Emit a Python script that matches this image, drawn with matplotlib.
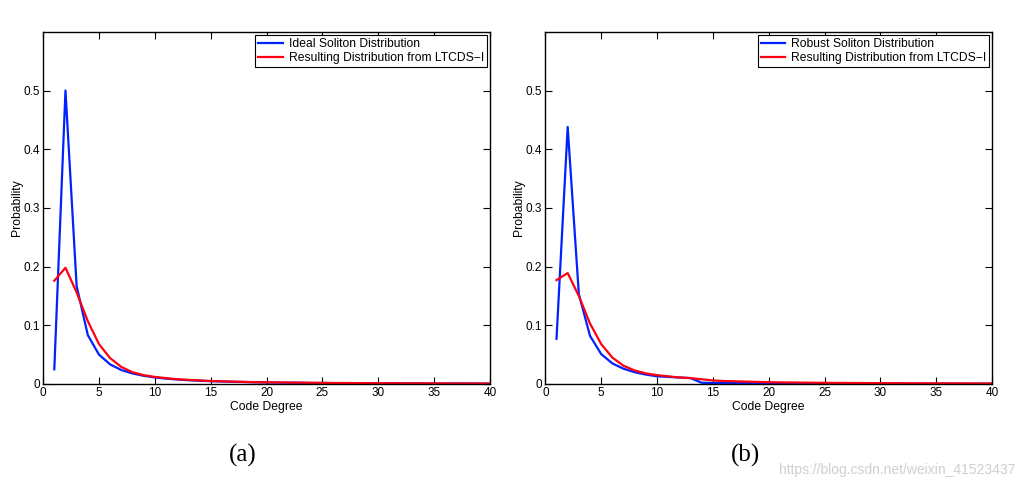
import matplotlib.pyplot as plt

degree = list(range(1, 41))

# (a) ideal soliton vs. LTCDS-I
ideal_soliton = [0.025, 0.5, 0.1667, 0.0833, 0.05, 0.0333, 0.0238, 0.0179, 0.0139, 0.0111,
                 0.0091, 0.0076, 0.0064, 0.0055, 0.0048, 0.0042, 0.0037, 0.0033, 0.0029, 0.0026,
                 0.0024, 0.0022, 0.0020, 0.0018, 0.0017, 0.0015, 0.0014, 0.0013, 0.0012, 0.0011,
                 0.0011, 0.0010, 0.0009, 0.0009, 0.0008, 0.0008, 0.0008, 0.0007, 0.0007, 0.0006]
ltcds_a = [0.176, 0.198, 0.156, 0.107, 0.068, 0.044, 0.029, 0.020, 0.015, 0.012,
           0.010, 0.008, 0.007, 0.006, 0.005, 0.0045, 0.0040, 0.0035, 0.0030, 0.0028,
           0.0026, 0.0024, 0.0022, 0.0020, 0.0018, 0.0017, 0.0016, 0.0015, 0.0014, 0.0013,
           0.0012, 0.0011, 0.0010, 0.0010, 0.0009, 0.0009, 0.0008, 0.0008, 0.0007, 0.0007]

# (b) robust soliton vs. LTCDS-I
robust_soliton = [0.077, 0.438, 0.153, 0.082, 0.051, 0.035, 0.026, 0.020, 0.016, 0.013,
                  0.012, 0.011, 0.010, 0.002, 0.0018, 0.0016, 0.0015, 0.0014, 0.0013, 0.0012,
                  0.0011, 0.0010, 0.0010, 0.0009, 0.0009, 0.0008, 0.0008, 0.0007, 0.0007, 0.0007,
                  0.0006, 0.0006, 0.0006, 0.0005, 0.0005, 0.0005, 0.0005, 0.0005, 0.0004, 0.0004]
ltcds_b = [0.177, 0.189, 0.150, 0.103, 0.068, 0.045, 0.031, 0.023, 0.018, 0.015,
           0.013, 0.011, 0.010, 0.008, 0.006, 0.005, 0.0045, 0.0040, 0.0035, 0.0030,
           0.0027, 0.0025, 0.0023, 0.0021, 0.0019, 0.0018, 0.0017, 0.0016, 0.0015, 0.0014,
           0.0013, 0.0012, 0.0011, 0.0011, 0.0010, 0.0010, 0.0009, 0.0009, 0.0008, 0.0008]

panels = [
    ("Ideal Soliton Distribution", ideal_soliton, ltcds_a, "(a)", 243),
    ("Robust Soliton Distribution", robust_soliton, ltcds_b, "(b)", 745),
]

plt.rcParams['font.family'] = ['Liberation Sans', 'DejaVu Sans']

fig = plt.figure(figsize=(10.27, 4.91), dpi=100)
lefts = [0.042, 0.531]

for left, (name, blue, red, tag, tag_x) in zip(lefts, panels):
    ax = fig.add_axes([left, 0.218, 0.435, 0.717])
    ax.plot(degree, blue, color='#0022ff', lw=1.6, label=name)
    ax.plot(degree, red, color='#ff0011', lw=1.6, label='Resulting Distribution from LTCDS\u2212I')
    ax.set_xlim(0, 40)
    ax.set_ylim(0, 0.6)
    ax.set_xticks(range(0, 41, 5))
    ax.set_yticks([0, 0.1, 0.2, 0.3, 0.4, 0.5])
    ax.set_yticklabels(['0', '0.1', '0.2', '0.3', '0.4', '0.5'])
    ax.tick_params(direction='in', top=True, right=True, labelsize=8.5, length=5, pad=2.5)
    for s in ax.spines.values():
        s.set_linewidth(1.0)
    ax.set_xlabel('Code Degree', fontsize=8.7, labelpad=1)
    ax.set_ylabel('Probability', fontsize=8.7, labelpad=0)
    leg = ax.legend(loc='upper right', fontsize=8.7, fancybox=False, edgecolor='black',
                    framealpha=1, borderaxespad=0.25, handlelength=2.0,
                    borderpad=0.25, labelspacing=0.2, handletextpad=0.5)
    leg.get_frame().set_linewidth(0.8)
    fig.text(tag_x / 1027, 1 - 455 / 491, tag, ha='center', va='center',
             fontsize=18, family='Liberation Serif')

fig.text(1015 / 1027, 1 - 470 / 491, 'https://blog.csdn.net/weixin_41523437', ha='right', va='center',
         fontsize=10, color='#cfcfcf')

fig.savefig('out.png', dpi=100)
